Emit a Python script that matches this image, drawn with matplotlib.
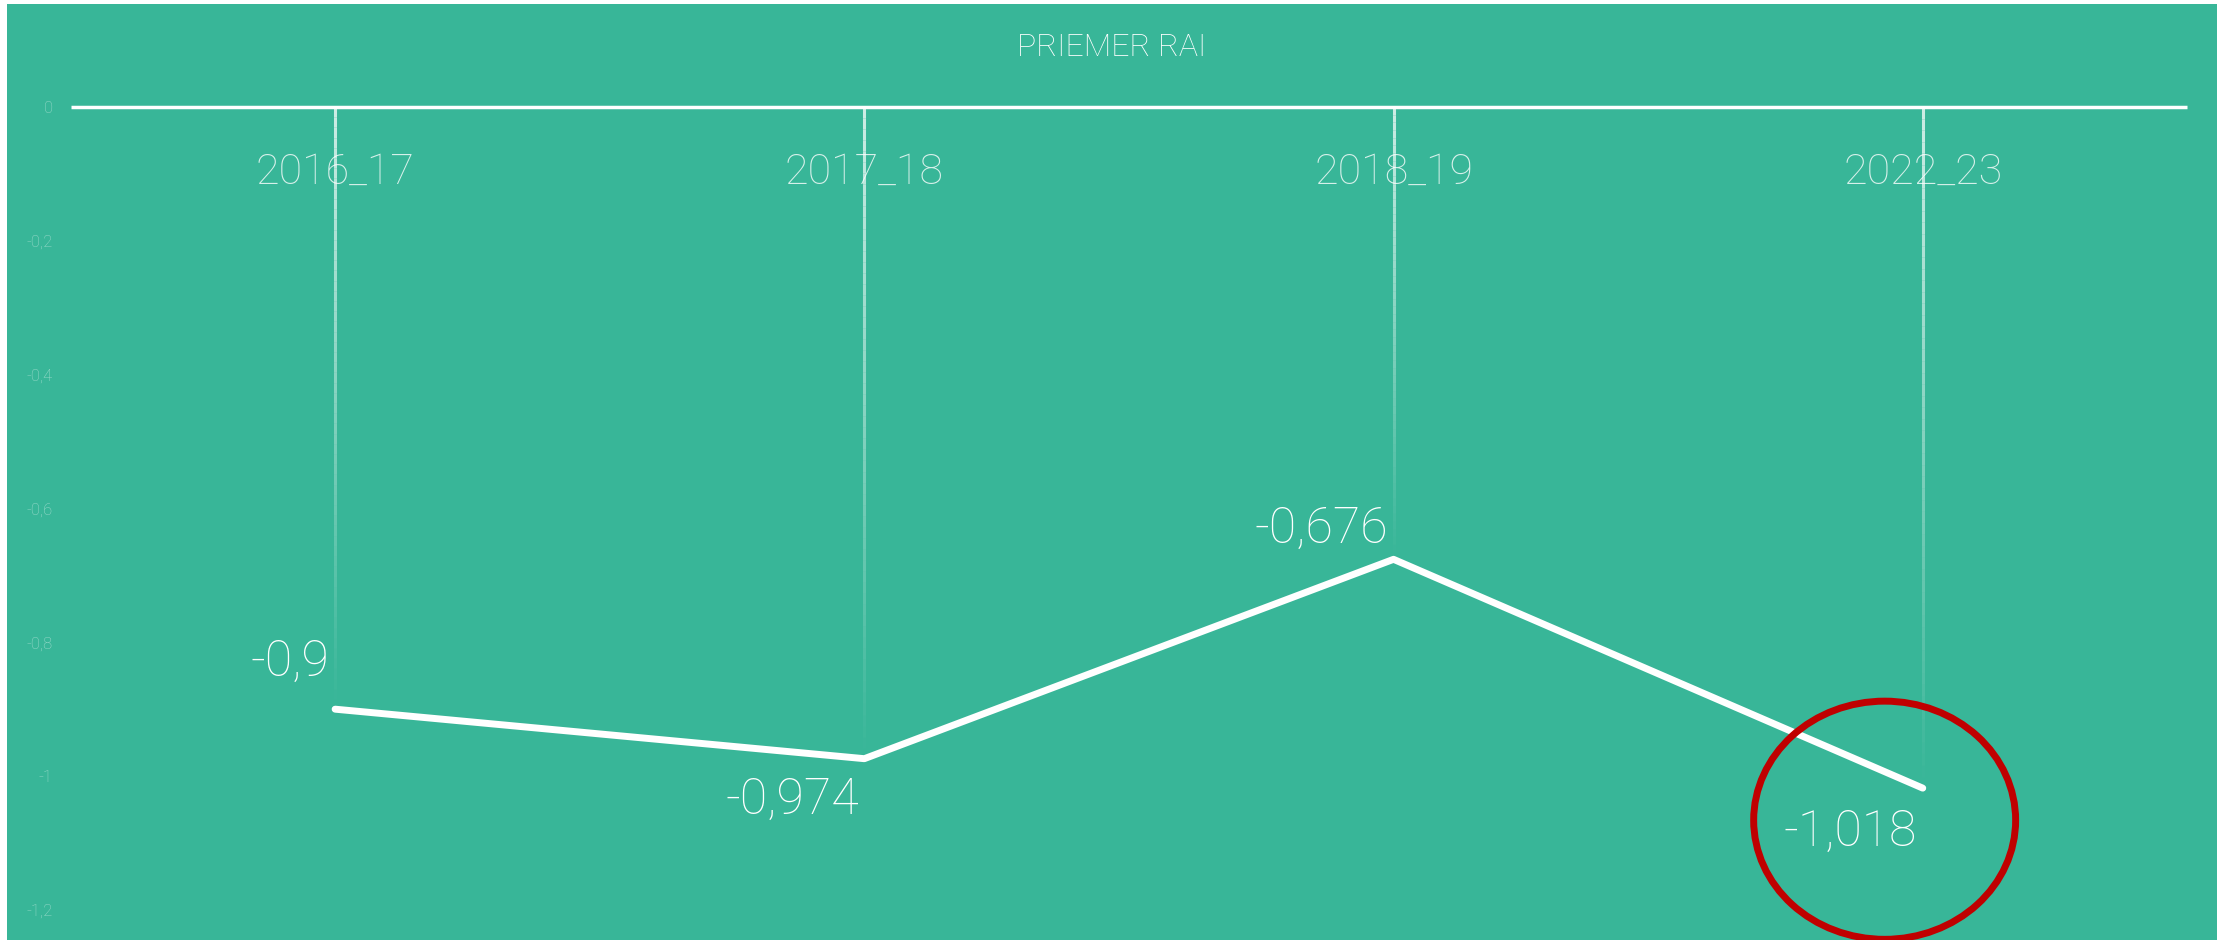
import matplotlib
matplotlib.use("Agg")
import matplotlib.pyplot as plt
import numpy as np
from matplotlib.collections import LineCollection
from matplotlib.patches import Ellipse

# Chart data
seasons = ["2016_17", "2017_18", "2018_19", "2022_23"]
values = [-0.9, -0.974, -0.676, -1.018]
value_labels = ["-0,9", "-0,974", "-0,676", "-1,018"]
y_ticks = [0, -0.2, -0.4, -0.6, -0.8, -1.0, -1.2]
y_tick_labels = ["0", "-0,2", "-0,4", "-0,6", "-0,8", "-1", "-1,2"]

GREEN = "#38b698"
plt.rcParams["font.family"] = ["Roboto", "DejaVu Sans"]
plt.rcParams["font.weight"] = "light"

fig = plt.figure(figsize=(22.28, 9.41), dpi=100, facecolor="white")
ax = fig.add_axes([7 / 2228, 1 / 941, 2210 / 2228, 936 / 941])
ax.set_facecolor(GREEN)
ax.set_xlim(-0.62, 3.556)
ax.set_ylim(-1.245, 0.154)
for spine in ax.spines.values():
    spine.set_visible(False)

# Y axis labels drawn inside the plot area.
ax.set_xticks([])
ax.set_yticks(y_ticks, y_tick_labels)
ax.tick_params(axis="y", length=0, pad=-33, labelsize=12,
               labelcolor=(1, 1, 1, 0.5))

# Zero line.
ax.hlines(0, -0.5, 3.5, color="white", linewidth=2.5, zorder=3)

# Fading drop lines from the zero line down to each point.
x = np.arange(len(seasons))
for xi, val in zip(x, values):
    ys = np.linspace(0, val, 60)
    segs = [[(xi, ys[k]), (xi, ys[k + 1])] for k in range(len(ys) - 1)]
    alphas = np.linspace(0.75, 0.0, len(segs))
    colors = [(1, 1, 1, a) for a in alphas]
    ax.add_collection(LineCollection(segs, colors=colors, linewidths=2.2, zorder=2))

# Category labels just under the zero line.
for xi, name in zip(x, seasons):
    ax.text(xi, -0.097, name, ha="center", va="center", fontsize=31,
            fontweight="light", color=(1, 1, 1, 0.8), zorder=4)

# Main line.
ax.plot(x, values, color="white", linewidth=5, solid_capstyle="round",
        solid_joinstyle="round", zorder=5)

# Value labels, above or below depending on the point.
offsets = [34, -30, 22, -32]
for xi, val, lab, off in zip(x, values, value_labels, offsets):
    ax.annotate(lab, (xi, val), xytext=(-4, off), textcoords="offset points",
                ha="right", va="center", fontsize=36, fontweight="light",
                color="white", zorder=6)

# Red highlight around the last value.
ax.add_patch(Ellipse((2.928, -1.066), 0.495, 0.356, fill=False,
                     edgecolor="#c00000", linewidth=5, zorder=7))

fig.text(1112 / 2228, 1 - 48 / 941, "PRIEMER RAI", ha="center", va="center",
         fontsize=23, fontweight="light", color="white")

fig.savefig("out.png", dpi=100, facecolor=fig.get_facecolor())
